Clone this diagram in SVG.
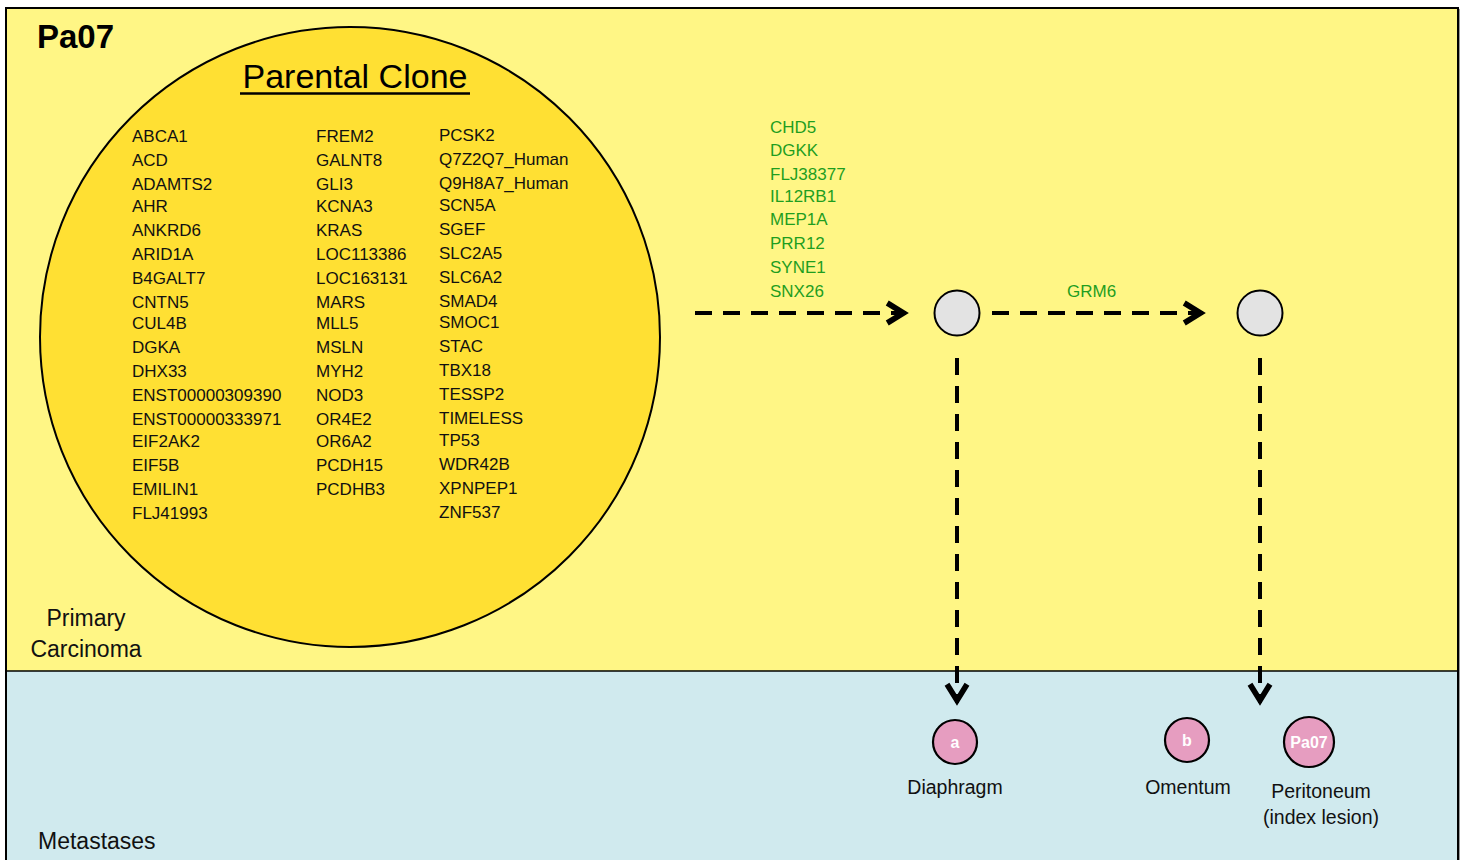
<svg xmlns="http://www.w3.org/2000/svg" width="1467" height="860" viewBox="0 0 1467 860">
  <defs>
    <style>
      text { font-family: "Liberation Sans", Arial, sans-serif; }
      .gene { font-size: 17px; fill: #111; }
      .green { font-size: 17px; fill: #1f9e1f; }
      .label { font-size: 19.5px; fill: #111; }
      .region { font-size: 23px; fill: #111; }
      .dash { fill: none; stroke: #000; stroke-width: 4; stroke-dasharray: 17 11; }
      .node { fill: #e3e3e3; stroke: #000; stroke-width: 2; }
      .met { fill: #e69dc0; stroke: #000; stroke-width: 2.2; }
      .metText { font-size: 16px; font-weight: bold; fill: #fff; text-anchor: middle; }
    </style>
    <marker id="chevron" markerUnits="userSpaceOnUse" markerWidth="30" markerHeight="30" viewBox="-16 -12 22 24" refX="2" refY="0" orient="auto">
      <path d="M-13,-8 L0,0 L-13,8" fill="none" stroke="#000" stroke-width="4.5" stroke-linejoin="miter" stroke-dasharray="none"/>
    </marker>
  </defs>

  <!-- background panels -->
  <rect x="0" y="0" width="1467" height="860" fill="#ffffff"/>
  <rect x="6" y="8" width="1452" height="663" fill="#fff685"/>
  <rect x="6" y="671" width="1452" height="200" fill="#d0eaee"/>
  <line x1="6" y1="671" x2="1458" y2="671" stroke="#000" stroke-width="1.6"/>
  <rect x="6" y="8" width="1452" height="870" fill="none" stroke="#000" stroke-width="2"/>
  <line x1="1459.5" y1="9" x2="1459.5" y2="860" stroke="#9a9a9a" stroke-width="1"/>

  <!-- region titles -->
  <text x="37" y="48" font-size="33" font-weight="bold" fill="#000">Pa07</text>
  <text x="86" y="626" class="region" text-anchor="middle">Primary</text>
  <text x="86" y="657" class="region" text-anchor="middle">Carcinoma</text>
  <text x="38" y="849" class="region" font-size="23.5">Metastases</text>

  <!-- parental clone -->
  <g id="parental-clone">
    <circle cx="350" cy="337" r="310" fill="#ffe033" stroke="#000" stroke-width="2"/>
    <text x="355" y="88" font-size="34" text-anchor="middle" fill="#000">Parental Clone</text>
    <line x1="240" y1="93.5" x2="470" y2="93.5" stroke="#000" stroke-width="2.5"/>
    <g class="gene" transform="translate(0,1)">
      <text x="132" y="141">ABCA1</text>
      <text x="132" y="165">ACD</text>
      <text x="132" y="189">ADAMTS2</text>
      <text x="132" y="211">AHR</text>
      <text x="132" y="235">ANKRD6</text>
      <text x="132" y="259">ARID1A</text>
      <text x="132" y="283">B4GALT7</text>
      <text x="132" y="307">CNTN5</text>
      <text x="132" y="328">CUL4B</text>
      <text x="132" y="352">DGKA</text>
      <text x="132" y="376">DHX33</text>
      <text x="132" y="400">ENST00000309390</text>
      <text x="132" y="424">ENST00000333971</text>
      <text x="132" y="446">EIF2AK2</text>
      <text x="132" y="470">EIF5B</text>
      <text x="132" y="494">EMILIN1</text>
      <text x="132" y="518">FLJ41993</text>

      <text x="316" y="141">FREM2</text>
      <text x="316" y="165">GALNT8</text>
      <text x="316" y="189">GLI3</text>
      <text x="316" y="211">KCNA3</text>
      <text x="316" y="235">KRAS</text>
      <text x="316" y="259">LOC113386</text>
      <text x="316" y="283">LOC163131</text>
      <text x="316" y="307">MARS</text>
      <text x="316" y="328">MLL5</text>
      <text x="316" y="352">MSLN</text>
      <text x="316" y="376">MYH2</text>
      <text x="316" y="400">NOD3</text>
      <text x="316" y="424">OR4E2</text>
      <text x="316" y="446">OR6A2</text>
      <text x="316" y="470">PCDH15</text>
      <text x="316" y="494">PCDHB3</text>

      <text x="439" y="140">PCSK2</text>
      <text x="439" y="164">Q7Z2Q7_Human</text>
      <text x="439" y="188">Q9H8A7_Human</text>
      <text x="439" y="210">SCN5A</text>
      <text x="439" y="234">SGEF</text>
      <text x="439" y="258">SLC2A5</text>
      <text x="439" y="282">SLC6A2</text>
      <text x="439" y="306">SMAD4</text>
      <text x="439" y="327">SMOC1</text>
      <text x="439" y="351">STAC</text>
      <text x="439" y="375">TBX18</text>
      <text x="439" y="399">TESSP2</text>
      <text x="439" y="423">TIMELESS</text>
      <text x="439" y="445">TP53</text>
      <text x="439" y="469">WDR42B</text>
      <text x="439" y="493">XPNPEP1</text>
      <text x="439" y="517">ZNF537</text>
    </g>
  </g>

  <!-- connectors -->
  <g id="connectors">
    <path class="dash" d="M695,313 L906,313" marker-end="url(#chevron)"/>
    <path class="dash" d="M992,313 L1203,313" marker-end="url(#chevron)"/>
    <path class="dash" d="M957,358 L957,703" marker-end="url(#chevron)"/>
    <path class="dash" d="M1260,358 L1260,703" marker-end="url(#chevron)"/>
    <g class="green" transform="translate(0,1)">
      <text x="770" y="132">CHD5</text>
      <text x="770" y="155">DGKK</text>
      <text x="770" y="179">FLJ38377</text>
      <text x="770" y="201">IL12RB1</text>
      <text x="770" y="224">MEP1A</text>
      <text x="770" y="248">PRR12</text>
      <text x="770" y="272">SYNE1</text>
      <text x="770" y="296">SNX26</text>
      <text x="1067" y="296">GRM6</text>
    </g>
  </g>

  <!-- intermediate clones -->
  <g id="clone-1"><circle class="node" cx="957" cy="313" r="22.5"/></g>
  <g id="clone-2"><circle class="node" cx="1260" cy="313" r="22.5"/></g>

  <!-- metastatic sites -->
  <g id="met-a">
    <circle class="met" cx="955" cy="742" r="22"/>
    <text x="955" y="748" class="metText">a</text>
    <text x="955" y="794" class="label" text-anchor="middle">Diaphragm</text>
  </g>
  <g id="met-b">
    <circle class="met" cx="1187" cy="740" r="22"/>
    <text x="1187" y="746" class="metText">b</text>
    <text x="1188" y="794" class="label" text-anchor="middle">Omentum</text>
  </g>
  <g id="met-pa07">
    <circle class="met" cx="1309" cy="742" r="25"/>
    <text x="1309" y="748" class="metText">Pa07</text>
    <text x="1321" y="798" class="label" text-anchor="middle">Peritoneum</text>
    <text x="1321" y="824" class="label" text-anchor="middle">(index lesion)</text>
  </g>
</svg>
